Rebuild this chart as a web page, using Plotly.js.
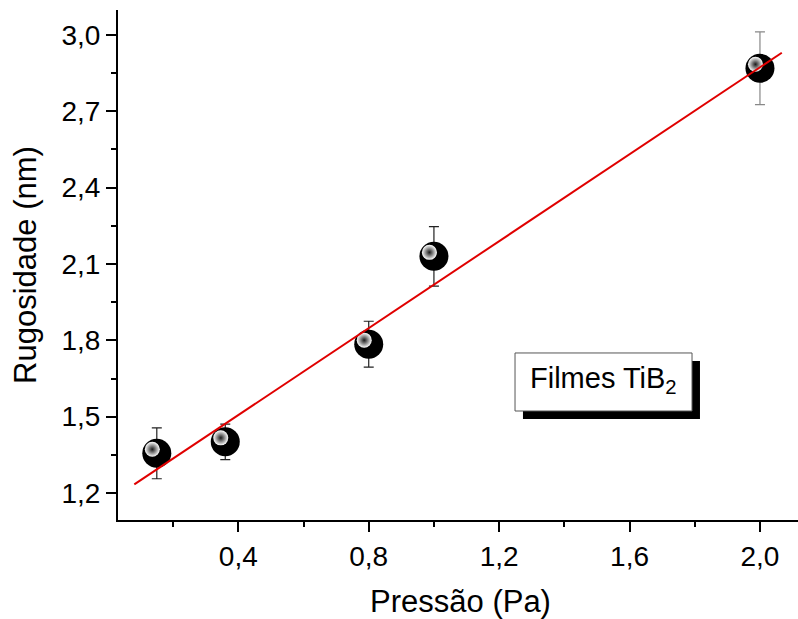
<!DOCTYPE html>
<html>
<head>
<meta charset="utf-8">
<script src="https://cdn.plot.ly/plotly-3.0.1.min.js"></script>
<style>
html, body { margin: 0; padding: 0; overflow: hidden; background: #fff; }
#chart { width: 806px; height: 619px; }
</style>
</head>
<body>
<div id="chart"></div>
<script>
// Data
const pressao = [0.15, 0.36, 0.80, 1.00, 2.00];
const rugosidade = [1.356, 1.401, 1.785, 2.130, 2.869];
const erro = [0.10, 0.07, 0.09, 0.117, 0.143];
const ajusteX = [0.081, 2.067];
const ajusteY = [1.234, 2.930];
const xTitulo = 'Pressão (Pa)';
const yTitulo = 'Rugosidade (nm)';
const rotulo = 'Filmes TiB<sub>2</sub>';

const W = 806, H = 619;
const M = {l: 118, r: 3, t: 10, b: 99};
const xRange = [0.031, 2.132];
const yRange = [1.094, 3.098];
const pw = W - M.l - M.r, ph = H - M.t - M.b;
// highlight offset in pixels (up-left)
const dxPx = -4.5, dyPx = -4;
const sx = -dxPx * (xRange[1] - xRange[0]) / pw;
const sy = dyPx * (yRange[1] - yRange[0]) / ph;
const xRangeH = [xRange[0] + sx, xRange[1] + sx];
const yRangeH = [yRange[0] + sy, yRange[1] + sy];

const FONT = 'Liberation Sans, Arial, Helvetica, sans-serif';

const traces = [
  {
    x: pressao.slice(0, 4), y: rugosidade.slice(0, 4),
    type: 'scatter', mode: 'markers',
    marker: {size: 29, color: '#000'},
    error_y: {type: 'data', array: erro.slice(0, 4), visible: true, color: '#222', thickness: 1.2, width: 5},
    xaxis: 'x', yaxis: 'y', hoverinfo: 'skip', showlegend: false
  },
  {
    x: pressao.slice(4), y: rugosidade.slice(4),
    type: 'scatter', mode: 'markers',
    marker: {size: 29, color: '#000'},
    error_y: {type: 'data', array: erro.slice(4), visible: true, color: '#888', thickness: 1.2, width: 5},
    xaxis: 'x', yaxis: 'y', hoverinfo: 'skip', showlegend: false
  },
  {
    x: pressao, y: rugosidade,
    type: 'scatter', mode: 'markers',
    marker: {size: 15, color: '#ffffff', gradient: {type: 'radial', color: '#1a1a1a'}, line: {width: 0}},
    xaxis: 'x3', yaxis: 'y3', hoverinfo: 'skip', showlegend: false
  },
  {
    x: ajusteX, y: ajusteY,
    type: 'scatter', mode: 'lines',
    line: {color: '#e00000', width: 2},
    xaxis: 'x4', yaxis: 'y4', hoverinfo: 'skip', showlegend: false
  }
];

const baseX = {
  range: xRange, tickmode: 'linear', tick0: 0, dtick: 0.4, tickformat: '.1f',
  showgrid: false, zeroline: false, showline: true, linewidth: 2, linecolor: '#000',
  tickcolor: '#000', tickwidth: 2
};
const baseY = {
  range: yRange, tickmode: 'linear', tick0: 0, dtick: 0.3, tickformat: '.1f',
  showgrid: false, zeroline: false, showline: true, linewidth: 2, linecolor: '#000',
  tickcolor: '#000', tickwidth: 2
};

const layout = {
  width: W, height: H, margin: M,
  paper_bgcolor: '#fff', plot_bgcolor: '#fff',
  separators: ',.',
  font: {family: FONT, color: '#000', size: 28},
  showlegend: false,
  xaxis: Object.assign({}, baseX, {
    ticks: 'outside', ticklen: 10, side: 'bottom',
    minor: {dtick: 0.2, tick0: 0, ticks: 'outside', ticklen: 5, tickwidth: 2, tickcolor: '#000', showgrid: false},
    tickfont: {size: 28, family: FONT},
    title: {text: xTitulo, font: {size: 31, family: FONT}, standoff: 22},
    anchor: 'y'
  }),
  yaxis: Object.assign({}, baseY, {
    ticks: 'outside', ticklen: 10, side: 'left',
    minor: {dtick: 0.15, tick0: 0, ticks: 'outside', ticklen: 5, tickwidth: 2, tickcolor: '#000', showgrid: false},
    tickfont: {size: 28, family: FONT},
    title: {text: yTitulo, font: {size: 31, family: FONT}, standoff: 16},
    anchor: 'x'
  }),
  xaxis2: Object.assign({}, baseX, {
    overlaying: 'x', side: 'top', anchor: 'y', ticks: 'inside', ticklen: 10, showticklabels: false,
    minor: {dtick: 0.2, tick0: 0, ticks: 'inside', ticklen: 5, tickwidth: 2, tickcolor: '#000', showgrid: false}
  }),
  yaxis2: Object.assign({}, baseY, {
    overlaying: 'y', side: 'right', anchor: 'x', ticks: 'inside', ticklen: 8, showticklabels: false,
    minor: {dtick: 0.15, tick0: 0, ticks: 'inside', ticklen: 4, tickwidth: 2, tickcolor: '#000', showgrid: false}
  }),
  xaxis3: {overlaying: 'x', range: xRangeH, visible: false, anchor: 'y3'},
  yaxis3: {overlaying: 'y', range: yRangeH, visible: false, anchor: 'x3'},
  xaxis4: {overlaying: 'x', range: xRange, visible: false, anchor: 'y4'},
  yaxis4: {overlaying: 'y', range: yRange, visible: false, anchor: 'x4'},
  shapes: [
    {type: 'rect', xref: 'paper', yref: 'paper', x0: 0.5912, x1: 0.8496, y0: 0.198, y1: 0.3118,
     fillcolor: '#000', line: {width: 0}, layer: 'above'},
    {type: 'rect', xref: 'paper', yref: 'paper', x0: 0.5796, x1: 0.838, y0: 0.2137, y1: 0.3275,
     fillcolor: '#fff', line: {width: 1, color: '#555'}, layer: 'above'}
  ],
  annotations: [
    {text: rotulo, xref: 'paper', yref: 'paper', x: 0.7088, y: 0.2745,
     xanchor: 'center', yanchor: 'middle', showarrow: false,
     font: {size: 29, family: FONT, color: '#000'}}
  ]
};

Plotly.newPlot('chart', traces, layout, {staticPlot: true, displayModeBar: false});
</script>
</body>
</html>
